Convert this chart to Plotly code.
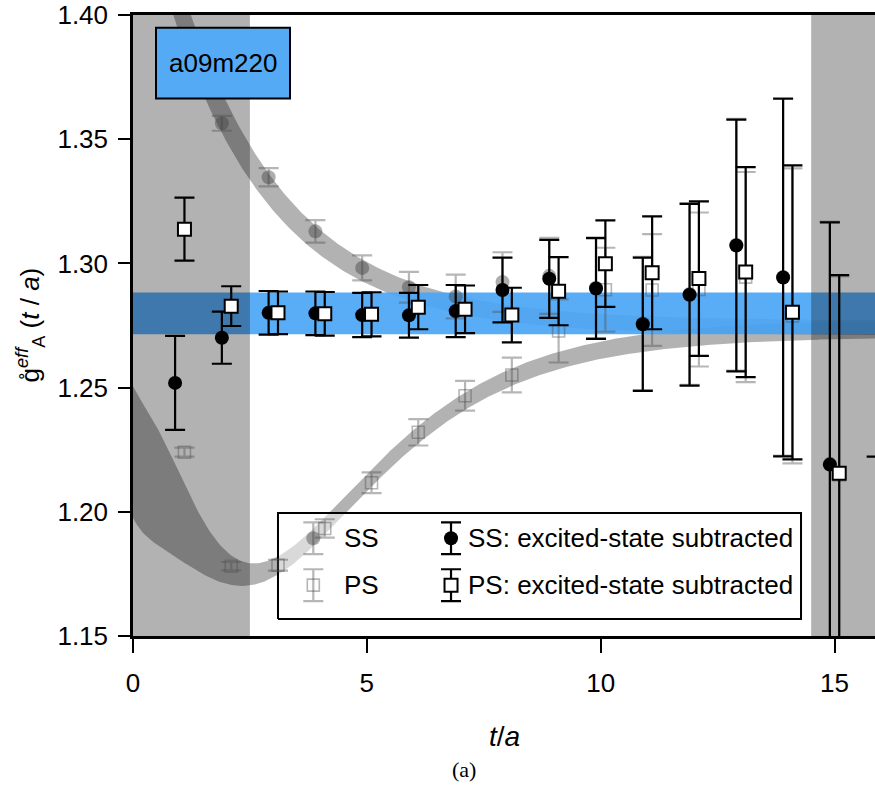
import numpy as np
import plotly.graph_objects as go

# ---------------- data ----------------
# raw effective charge, smeared-smeared (SS) source/sink, t/a = 2..15
ss_raw_t = np.arange(2, 16)
ss_raw = [1.3564, 1.3347, 1.3129, 1.2982, 1.2904, 1.2867, 1.2925, 1.2950,
          1.2902, 1.2758, 1.2877, 1.3075, 1.2946, 1.2193]
ss_raw_err = [0.0030, 0.0037, 0.0045, 0.0050, 0.0062, 0.0088, 0.0120, 0.0153,
              0.0203, 0.0268, 0.0366, 0.0507, 0.0720, 0.0975]

# raw effective charge, point-smeared (PS), t/a = 1..15
ps_raw_t = np.arange(1, 16)
ps_raw = [1.2240, 1.1781, 1.1785, 1.1933, 1.2117, 1.2320, 1.2467, 1.2551,
          1.2728, 1.2894, 1.2893, 1.2895, 1.2945, 1.2789, 1.2148]
ps_raw_err = [0.0018, 0.0017, 0.0022, 0.0037, 0.0042, 0.0053, 0.0060, 0.0070,
              0.0127, 0.0169, 0.0225, 0.0310, 0.0423, 0.0594, 0.0800]

# excited-state subtracted, SS, t/a = 1..16
ss_sub_t = np.arange(1, 17)
ss_sub = [1.2519, 1.2701, 1.2801, 1.2799, 1.2792, 1.2791, 1.2808, 1.2893,
          1.2938, 1.2899, 1.2755, 1.2874, 1.3072, 1.2943, 1.2190, 1.1180]
ss_sub_err = [0.0189, 0.0105, 0.0088, 0.0088, 0.0089, 0.0090, 0.0105, 0.0130,
              0.0157, 0.0203, 0.0268, 0.0366, 0.0507, 0.0720, 0.0975, 0.1042]

# excited-state subtracted, PS, t/a = 1..15
ps_sub_t = np.arange(1, 16)
ps_sub = [1.3138, 1.2828, 1.2801, 1.2797, 1.2795, 1.2824, 1.2815, 1.2792,
          1.2888, 1.2999, 1.2962, 1.2939, 1.2965, 1.2803, 1.2155]
ps_sub_err = [0.0127, 0.0080, 0.0086, 0.0088, 0.0089, 0.0089, 0.0096, 0.0110,
              0.0137, 0.0174, 0.0227, 0.0311, 0.0423, 0.0592, 0.0798]

# final estimate (blue band)
GA_FIT = 1.2799
GA_ERR = 0.0084

# excited-state fit parameters for the grey curves
G_INF = 1.274
DELTA = 0.44
SS_AMP = 0.20
PS_COEF = [-0.750, 1.897, -1.829, 0.632]   # powers 1..4 of exp(-DELTA t)

# regions left out of the fit
EXCL_LO = 2.5
EXCL_HI = 14.5

X_TICKS = [0, 5, 10, 15]
Y_TICKS = [1.15, 1.20, 1.25, 1.30, 1.35, 1.40]
X_RANGE = [0.0, 15.865]
Y_RANGE = [1.15, 1.40001]

LABEL = "a09m220"

# ---------------- styling ----------------
FONT = "Liberation Sans, Arial, sans-serif"
FS = 26
BLUE = "rgba(75,165,245,0.92)"
BOX_BLUE = "#55aaf5"
SHADE = "rgba(0,0,0,0.3)"
RAW_FILL = "rgba(60,60,60,0.42)"
RAW_ERR = "rgba(80,80,80,0.42)"
OFF = 0.1

fig = go.Figure()

# fit curves with their error bands
tt = np.linspace(0.0, 16.5, 400)
xx = np.exp(-DELTA * tt)
ss_c = G_INF + SS_AMP * xx
ss_s = 0.003 + 0.012 * xx
ps_c = G_INF + sum(c * xx ** (k + 1) for k, c in enumerate(PS_COEF))
ps_s = 0.0035 + 0.023 * np.exp(-(tt / 1.4) ** 2)

for c, s in [(ss_c, ss_s), (ps_c, ps_s)]:
    fig.add_trace(go.Scatter(
        x=np.concatenate([tt, tt[::-1]]),
        y=np.concatenate([c + s, (c - s)[::-1]]),
        fill="toself", fillcolor=SHADE, line=dict(width=0),
        mode="lines", hoverinfo="skip"))

# final estimate band
fig.add_trace(go.Scatter(
    x=[X_RANGE[0], 16.5, 16.5, X_RANGE[0]],
    y=[GA_FIT - GA_ERR, GA_FIT - GA_ERR, GA_FIT + GA_ERR, GA_FIT + GA_ERR],
    fill="toself", fillcolor=BLUE, line=dict(width=0), mode="lines",
    hoverinfo="skip"))

# excluded regions
for a, b in [(X_RANGE[0], EXCL_LO), (EXCL_HI, 16.5)]:
    fig.add_trace(go.Scatter(
        x=[a, b, b, a], y=[Y_RANGE[0], Y_RANGE[0], Y_RANGE[1], Y_RANGE[1]],
        fill="toself", fillcolor=SHADE, line=dict(width=0), mode="lines",
        hoverinfo="skip"))


# legend frame, placed in plot-fraction coordinates
def fx(f):
    return X_RANGE[0] + f * (X_RANGE[1] - X_RANGE[0])


def fy(f):
    return Y_RANGE[0] + f * (Y_RANGE[1] - Y_RANGE[0])


LEG_BOX = (0.1954, 0.9003, 0.0273, 0.1982)
LEG_ROWS = (0.1573, 0.0819)
LEG_COLS = (0.243, 0.4286)
LEG_TEXT = (0.2817, 0.4488)
LEG_BAR = 0.0064

fig.add_trace(go.Scatter(
    x=[fx(LEG_BOX[0]), fx(LEG_BOX[1]), fx(LEG_BOX[1]), fx(LEG_BOX[0]), fx(LEG_BOX[0])],
    y=[fy(LEG_BOX[2]), fy(LEG_BOX[2]), fy(LEG_BOX[3]), fy(LEG_BOX[3]), fy(LEG_BOX[2])],
    fill="toself", fillcolor="rgba(255,255,255,0.5)",
    line=dict(color="black", width=2), mode="lines", hoverinfo="skip"))

raw_ss_style = dict(marker=dict(symbol="circle", size=14, color=RAW_FILL, line=dict(width=0)))
raw_ps_style = dict(marker=dict(symbol="square-open", size=12, color=RAW_ERR, line=dict(width=1.6)))
sub_ss_style = dict(marker=dict(symbol="circle", size=14, color="black", line=dict(width=0)))
sub_ps_style = dict(marker=dict(symbol="square", size=13, color="white",
                                line=dict(color="black", width=2)))


def err(arr, color):
    return dict(type="data", array=arr, color=color, thickness=2.2, width=10, visible=True)


# data points
fig.add_trace(go.Scatter(x=ss_raw_t - OFF, y=ss_raw, mode="markers",
                         error_y=err(ss_raw_err, RAW_ERR), **raw_ss_style))
fig.add_trace(go.Scatter(x=ps_raw_t + OFF, y=ps_raw, mode="markers",
                         error_y=err(ps_raw_err, RAW_ERR), **raw_ps_style))
fig.add_trace(go.Scatter(x=ss_sub_t - OFF, y=ss_sub, mode="markers",
                         error_y=err(ss_sub_err, "black"), **sub_ss_style))
fig.add_trace(go.Scatter(x=ps_sub_t + OFF, y=ps_sub, mode="markers",
                         error_y=err(ps_sub_err, "black"), **sub_ps_style))

# legend glyphs and labels
leg_items = [
    (LEG_COLS[0], LEG_ROWS[0], raw_ss_style, RAW_ERR, LEG_TEXT[0], "SS"),
    (LEG_COLS[0], LEG_ROWS[1], raw_ps_style, RAW_ERR, LEG_TEXT[0], "PS"),
    (LEG_COLS[1], LEG_ROWS[0], sub_ss_style, "black", LEG_TEXT[1], "SS: excited-state subtracted"),
    (LEG_COLS[1], LEG_ROWS[1], sub_ps_style, "black", LEG_TEXT[1], "PS: excited-state subtracted"),
]
annotations = []
for cx, cy, style, ecol, tx, label in leg_items:
    fig.add_trace(go.Scatter(x=[fx(cx)], y=[fy(cy)], mode="markers",
                             error_y=err([LEG_BAR], ecol), **style))
    annotations.append(dict(x=tx, y=cy, xref="paper", yref="paper", text=label,
                            showarrow=False, xanchor="left", yanchor="middle",
                            font=dict(size=FS, family=FONT, color="black")))

# panel label box
annotations.append(dict(x=(0.031 + 0.2116) / 2, y=(0.8657 + 0.9796) / 2,
                        xref="paper", yref="paper", text=LABEL, showarrow=False,
                        xanchor="center", yanchor="middle",
                        font=dict(size=FS, family=FONT, color="black")))

# axis titles and caption
annotations.append(dict(x=0.5, y=-0.162, xref="paper", yref="paper",
                        text="<i>t</i>/<i>a</i>", showarrow=False,
                        xanchor="center", yanchor="middle",
                        font=dict(size=28, family=FONT, color="black")))
annotations.append(dict(x=-0.1388, y=0.5, xref="paper", yref="paper",
                        text="g\u030A<sup><i>eff</i></sup><sub>A</sub> (<i>t</i> / <i>a</i>)",
                        showarrow=False, textangle=-90,
                        xanchor="center", yanchor="middle",
                        font=dict(size=FS, family=FONT, color="black")))
annotations.append(dict(x=0.446, y=-0.215, xref="paper", yref="paper",
                        text="(a)", showarrow=False,
                        xanchor="center", yanchor="middle",
                        font=dict(size=22, family="Liberation Serif, DejaVu Serif, serif",
                                  color="black")))

fig.update_layout(
    width=875, height=789,
    margin=dict(l=133, r=0, t=13, b=153),
    plot_bgcolor="white", paper_bgcolor="white",
    showlegend=False,
    font=dict(family=FONT, size=FS, color="black"),
    annotations=annotations,
    shapes=[dict(type="rect", xref="paper", yref="paper",
                 x0=0.031, x1=0.2116, y0=0.8657, y1=0.9796,
                 fillcolor=BOX_BLUE, line=dict(color="black", width=2),
                 layer="above")],
)
fig.update_xaxes(range=X_RANGE, tickvals=X_TICKS, ticks="outside", ticklen=14,
                 tickwidth=2, tickcolor="black", showline=True, linecolor="black",
                 linewidth=2.5, mirror=True, showgrid=False, zeroline=False,
                 ticklabelstandoff=8, ticklabeloverflow="allow",
                 tickfont=dict(size=FS, family=FONT))
fig.update_yaxes(range=Y_RANGE, tickvals=Y_TICKS, tickformat=".2f", ticks="outside",
                 ticklen=12, tickwidth=2, tickcolor="black", showline=True,
                 linecolor="black", linewidth=2.5, mirror=False, showgrid=False,
                 zeroline=False, ticklabelstandoff=5, ticklabeloverflow="allow",
                 tickfont=dict(size=FS, family=FONT))

fig.write_html("out.html")
